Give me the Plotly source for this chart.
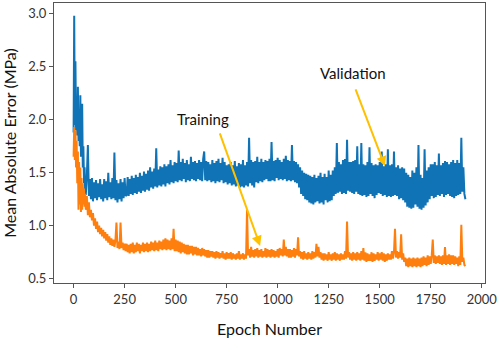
import numpy as np
import plotly.graph_objects as go

# Epoch positions: every 3 epochs for the first 60 epochs, then every 5 epochs
early_epochs = list(range(0, 60, 3))
main_epochs = list(range(60, 1921, 5))
epochs = early_epochs + main_epochs

validation_early = [1.88, 2.98, 1.95, 2.55, 1.90, 2.10, 1.85, 2.31, 1.80, 2.05,
                    1.75, 2.23, 1.65, 1.95, 2.15, 1.55, 1.75, 1.40, 1.55, 1.30]
validation_main = [
    1.30, 1.47, 1.76, 1.28, 1.44, 1.25, 1.45, 1.23, 1.41, 1.26, 1.43, 1.24, 1.40, 1.27, 1.44, 1.25, 1.39, 1.23, 1.44, 1.26,  # 60-155
    1.42, 1.24, 1.50, 1.27, 1.41, 1.25, 1.45, 1.26, 1.69, 1.24, 1.43, 1.22, 1.40, 1.25, 1.44, 1.23, 1.41, 1.26, 1.45, 1.28,  # 160-255
    1.29, 1.46, 1.28, 1.44, 1.30, 1.47, 1.29, 1.45, 1.31, 1.48, 1.30, 1.46, 1.32, 1.50, 1.31, 1.47, 1.33, 1.51, 1.32, 1.49,  # 260-355
    1.34, 1.52, 1.33, 1.55, 1.36, 1.51, 1.35, 1.54, 1.37, 1.73, 1.36, 1.53, 1.38, 1.56, 1.37, 1.55, 1.39, 1.58, 1.37, 1.56,  # 360-455
    1.40, 1.58, 1.39, 1.62, 1.41, 1.57, 1.40, 1.60, 1.42, 1.59, 1.41, 1.71, 1.43, 1.60, 1.42, 1.63, 1.44, 1.59, 1.41, 1.62,  # 460-555
    1.43, 1.58, 1.42, 1.65, 1.44, 1.60, 1.43, 1.61, 1.42, 1.59, 1.44, 1.62, 1.43, 1.60, 1.42, 1.63, 1.70, 1.43, 1.61, 1.42,  # 560-655
    1.60, 1.43, 1.58, 1.41, 1.62, 1.42, 1.59, 1.40, 1.61, 1.42, 1.63, 1.41, 1.59, 1.43, 1.64, 1.40, 1.60, 1.41, 1.57, 1.39,  # 660-755
    1.58, 1.40, 1.60, 1.38, 1.57, 1.39, 1.61, 1.37, 1.56, 1.38, 1.59, 1.36, 1.58, 1.37, 1.62, 1.36, 1.57, 1.38, 1.60, 1.37,  # 760-855
    1.83, 1.40, 1.62, 1.38, 1.60, 1.36, 1.61, 1.41, 1.65, 1.40, 1.60, 1.42, 1.63, 1.41, 1.60, 1.43, 1.62, 1.44, 1.61, 1.42,  # 860-955
    1.63, 1.42, 1.79, 1.43, 1.61, 1.42, 1.62, 1.45, 1.64, 1.43, 1.62, 1.44, 1.60, 1.43, 1.63, 1.44, 1.66, 1.42, 1.62, 1.43,  # 960-1055
    1.61, 1.42, 1.76, 1.43, 1.61, 1.41, 1.60, 1.40, 1.58, 1.36, 1.55, 1.30, 1.52, 1.28, 1.50, 1.25, 1.49, 1.24, 1.48, 1.22,  # 1060-1155
    1.47, 1.21, 1.46, 1.20, 1.48, 1.22, 1.45, 1.23, 1.47, 1.21, 1.50, 1.22, 1.46, 1.20, 1.49, 1.24, 1.46, 1.22, 1.52, 1.23,  # 1160-1255
    1.48, 1.24, 1.52, 1.28, 1.55, 1.30, 1.78, 1.31, 1.60, 1.32, 1.58, 1.30, 1.62, 1.31, 1.63, 1.30, 1.81, 1.33, 1.60, 1.32,  # 1260-1355
    1.60, 1.31, 1.61, 1.30, 1.62, 1.32, 1.75, 1.30, 1.58, 1.29, 1.78, 1.28, 1.58, 1.29, 1.57, 1.27, 1.60, 1.28, 1.74, 1.30,  # 1360-1455
    1.59, 1.28, 1.57, 1.26, 1.58, 1.29, 1.57, 1.31, 1.60, 1.30, 1.70, 1.28, 1.56, 1.29, 1.58, 1.27, 1.72, 1.28, 1.57, 1.27,  # 1460-1555
    1.58, 1.28, 1.70, 1.29, 1.55, 1.28, 1.57, 1.25, 1.54, 1.26, 1.55, 1.24, 1.54, 1.22, 1.50, 1.18, 1.48, 1.17, 1.46, 1.16,  # 1560-1655
    1.52, 1.17, 1.50, 1.20, 1.55, 1.18, 1.76, 1.16, 1.48, 1.15, 1.45, 1.17, 1.72, 1.19, 1.52, 1.22, 1.55, 1.25, 1.58, 1.28,  # 1660-1755
    1.58, 1.26, 1.60, 1.27, 1.57, 1.29, 1.68, 1.28, 1.57, 1.30, 1.59, 1.27, 1.61, 1.29, 1.60, 1.30, 1.58, 1.28, 1.60, 1.27,  # 1760-1855
    1.62, 1.26, 1.59, 1.28, 1.62, 1.29, 1.59, 1.30, 1.83, 1.32, 1.55, 1.30, 1.25,                                          # 1860-1920
]

training_early = [1.65, 1.93, 1.62, 1.90, 1.55, 1.80, 1.40, 1.70, 1.15, 1.60,
                  1.20, 1.55, 1.13, 1.45, 1.15, 1.40, 1.20, 1.35, 1.18, 1.30]
training_main = [
    1.15, 1.28, 1.10, 1.22, 1.08, 1.15, 1.05, 1.12, 1.00, 1.07, 0.97, 1.04, 0.94, 1.00, 0.92, 0.98, 0.90, 0.96, 0.88, 0.94,  # 60-155
    0.86, 0.92, 0.84, 0.90, 0.82, 0.88, 0.81, 0.87, 0.80, 0.86, 1.03, 0.79, 0.85, 0.78, 1.03, 0.79, 0.84, 0.77, 0.83, 0.76,  # 160-255
    0.83, 0.75, 0.82, 0.74, 0.83, 0.75, 0.84, 0.74, 0.82, 0.75, 0.84, 0.76, 0.83, 0.74, 0.82, 0.76, 0.84, 0.75, 0.83, 0.76,  # 260-355
    0.84, 0.75, 0.83, 0.76, 0.85, 0.77, 0.84, 0.76, 0.86, 0.77, 0.84, 0.76, 0.86, 0.78, 0.85, 0.77, 0.87, 0.78, 0.88, 0.77,  # 360-455
    0.87, 0.78, 0.86, 0.77, 0.88, 0.78, 0.97, 0.76, 0.87, 0.76, 0.86, 0.75, 0.85, 0.74, 0.84, 0.75, 0.83, 0.74, 0.82, 0.73,  # 460-555
    0.82, 0.73, 0.81, 0.74, 0.81, 0.72, 0.80, 0.73, 0.80, 0.72, 0.79, 0.72, 0.78, 0.71, 0.79, 0.72, 0.78, 0.71, 0.77, 0.70,  # 560-655
    0.77, 0.70, 0.76, 0.71, 0.76, 0.70, 0.75, 0.69, 0.76, 0.70, 0.75, 0.69, 0.74, 0.70, 0.76, 0.69, 0.74, 0.68, 0.75, 0.69,  # 660-755
    0.74, 0.69, 0.75, 0.68, 0.74, 0.69, 0.73, 0.68, 0.74, 0.69, 0.76, 0.68, 0.73, 0.69, 0.74, 0.68, 0.73, 0.69, 1.15, 0.72,  # 760-855
    0.78, 0.70, 0.80, 0.71, 0.77, 0.70, 0.78, 0.71, 0.79, 0.70, 0.77, 0.71, 0.78, 0.70, 0.76, 0.71, 0.79, 0.70, 0.78, 0.71,  # 860-955
    0.77, 0.70, 0.78, 0.71, 0.77, 0.70, 0.76, 0.71, 0.78, 0.70, 0.79, 0.72, 0.78, 0.71, 0.87, 0.72, 0.80, 0.71, 0.78, 0.70,  # 960-1055
    0.78, 0.70, 0.77, 0.71, 0.79, 0.70, 0.78, 0.72, 0.89, 0.71, 0.76, 0.69, 0.75, 0.68, 0.76, 0.69, 0.74, 0.68, 0.75, 0.69,  # 1060-1155
    0.74, 0.68, 0.76, 0.69, 0.75, 0.70, 0.83, 0.71, 0.80, 0.70, 0.75, 0.68, 0.74, 0.67, 0.74, 0.68, 0.73, 0.67, 0.75, 0.68,  # 1160-1255
    0.73, 0.67, 0.74, 0.68, 0.75, 0.67, 0.74, 0.68, 0.73, 0.67, 0.74, 0.68, 0.73, 0.68, 0.76, 0.69, 1.04, 0.70, 0.75, 0.68,  # 1260-1355
    0.74, 0.67, 0.75, 0.68, 0.74, 0.67, 0.75, 0.68, 0.74, 0.67, 0.76, 0.68, 0.79, 0.67, 0.75, 0.66, 0.74, 0.67, 0.73, 0.67,  # 1360-1455
    0.75, 0.66, 0.74, 0.67, 0.73, 0.68, 0.75, 0.67, 0.74, 0.68, 0.75, 0.67, 0.74, 0.66, 0.73, 0.67, 0.74, 0.68, 0.73, 0.68,  # 1460-1555
    0.76, 0.69, 0.75, 0.97, 0.70, 0.76, 0.69, 0.75, 0.70, 0.92, 0.68, 0.74, 0.66, 0.70, 0.62, 0.69, 0.61, 0.70, 0.62, 0.69,  # 1560-1655
    0.61, 0.70, 0.62, 0.69, 0.61, 0.70, 0.62, 0.69, 0.61, 0.70, 0.62, 0.71, 0.63, 0.70, 0.62, 0.72, 0.63, 0.71, 0.64, 0.72,  # 1660-1755
    0.87, 0.65, 0.72, 0.64, 0.71, 0.65, 0.72, 0.64, 0.71, 0.63, 0.72, 0.64, 0.80, 0.63, 0.72, 0.64, 0.73, 0.63, 0.72, 0.64,  # 1760-1855
    0.72, 0.63, 0.71, 0.64, 0.70, 0.62, 0.71, 0.63, 1.01, 0.66, 0.70, 0.63, 0.62,                                          # 1860-1920
]

validation = validation_early + validation_main
training = training_early + training_main

x_ticks = [0, 250, 500, 750, 1000, 1250, 1500, 1750, 2000]
y_ticks = [0.5, 1.0, 1.5, 2.0, 2.5, 3.0]

BLUE = "#0f73b6"
ORANGE = "#ff7f0e"
GOLD = "#ffc000"
AXIS = "#555555"
FONT = "Lato"

fig = go.Figure()
fig.add_trace(go.Scatter(x=epochs, y=validation, mode="lines",
                         line=dict(color=BLUE, width=2.0, simplify=False),
                         name="Validation"))
fig.add_trace(go.Scatter(x=epochs, y=training, mode="lines",
                         line=dict(color=ORANGE, width=2.0, simplify=False),
                         name="Training"))

# Text labels
fig.add_annotation(x=636, y=2.01, text="Training", showarrow=False,
                   font=dict(family=FONT, size=15, color="#111111"))
fig.add_annotation(x=1369, y=2.44, text="Validation", showarrow=False,
                   font=dict(family=FONT, size=15, color="#111111"))
# Arrows
fig.add_annotation(x=914, y=0.81, ax=714, ay=1.885, axref="x", ayref="y",
                   text="", showarrow=True, arrowhead=2, arrowsize=1,
                   arrowwidth=2, arrowcolor=GOLD)
fig.add_annotation(x=1526, y=1.56, ax=1379, ay=2.30, axref="x", ayref="y",
                   text="", showarrow=True, arrowhead=2, arrowsize=1,
                   arrowwidth=2, arrowcolor=GOLD)

axis_common = dict(showline=True, mirror=True, linecolor=AXIS, linewidth=1.2,
                   ticks="outside", ticklen=4, tickcolor=AXIS, tickwidth=1,
                   showgrid=False, zeroline=False, automargin=False,
                   tickfont=dict(family=FONT, size=13, color="#333333"))

fig.update_xaxes(range=[-96, 2016], tickvals=x_ticks,
                 title=dict(text="Epoch Number", standoff=18,
                            font=dict(family=FONT, size=16, color="#111111")),
                 **axis_common)
fig.update_yaxes(range=[0.46, 3.10], tickvals=y_ticks, tickformat=".1f",
                 title=dict(text="Mean Absolute Error (MPa)", standoff=7,
                            font=dict(family=FONT, size=16, color="#111111")),
                 **axis_common)

fig.update_layout(width=498, height=340, showlegend=False,
                  plot_bgcolor="white", paper_bgcolor="white",
                  margin=dict(l=54, r=13, t=3, b=57))

fig.write_html("out.html", config={"displayModeBar": False},
               post_script="document.body.style.margin='0';")
